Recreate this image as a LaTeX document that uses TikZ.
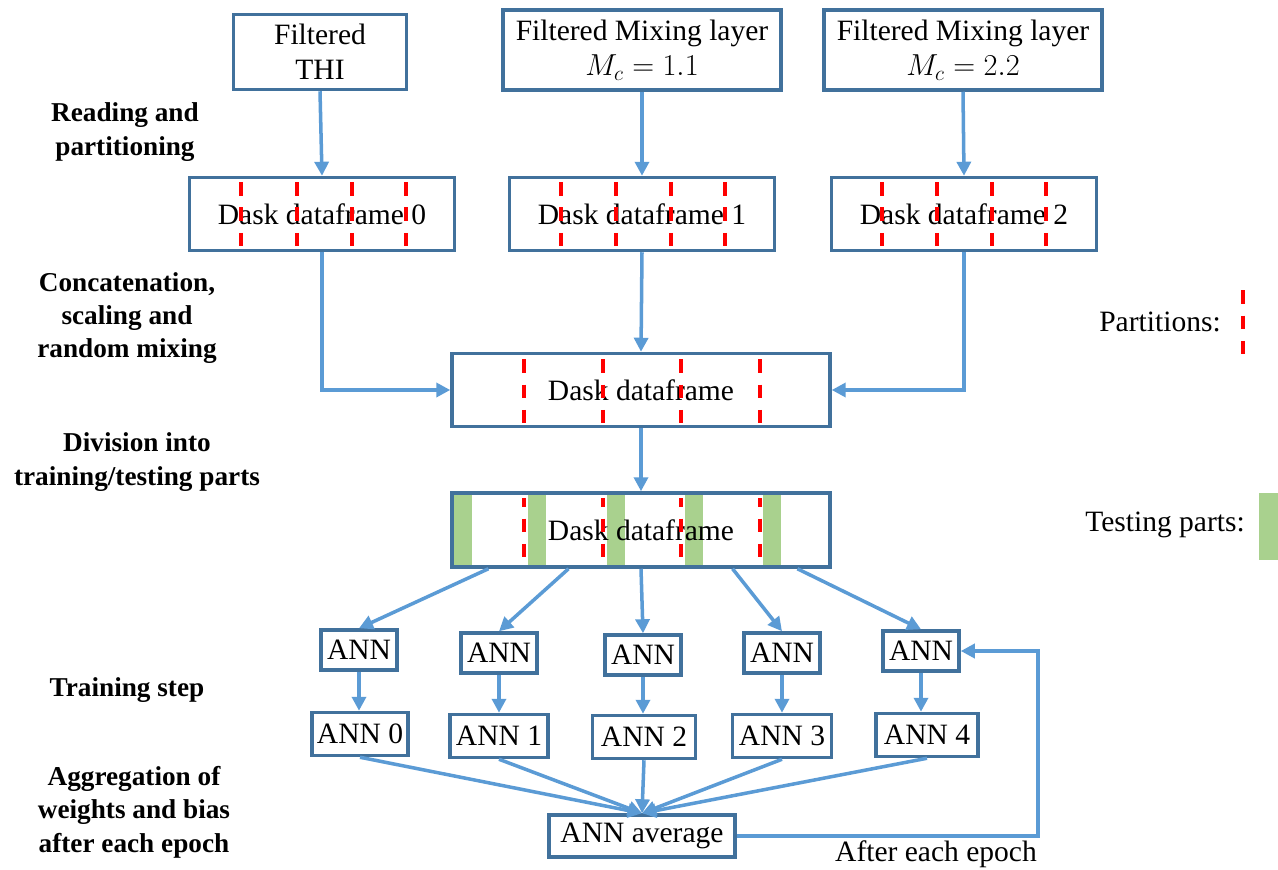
\documentclass[tikz,border=0pt]{standalone}
\usepackage{amsmath}
\usepackage{fontspec}
\setmainfont{Liberation Serif}
\usetikzlibrary{arrows.meta,calc}

\definecolor{boxblue}{RGB}{65,113,156}
\definecolor{flowblue}{RGB}{91,155,213}
\definecolor{testgreen}{RGB}{169,209,142}

\begin{document}
\begin{tikzpicture}[x=0.02cm, y=-0.02cm, >={Triangle[length=0.28cm,width=0.28cm]},
    every node/.style={font=\fontsize{16.8}{20}\selectfont},
    box/.style={draw=boxblue, line width=2pt, inner sep=0pt, align=center},
    flow/.style={draw=flowblue, line width=2pt, ->},
    part/.style={draw=red, line width=2.3pt, dash pattern=on 0.27cm off 0.24cm},
    stage/.style={font=\bfseries\fontsize{15.5}{19}\selectfont, align=center}]
    \useasboundingbox (0,0) rectangle (1278,869);

    % sources
    \node[box, minimum width=3.46cm, minimum height=1.5cm] (thi) at (320,52) {Filtered\\THI};
    \node[box, minimum width=5.56cm, minimum height=1.6cm] (mc1) at (642,50) {Filtered Mixing layer\\$M_c = 1.1$};
    \node[box, minimum width=5.56cm, minimum height=1.6cm] (mc2) at (963,50) {Filtered Mixing layer\\$M_c = 2.2$};

    % dask dataframes
    \node[box, minimum width=5.3cm, minimum height=1.46cm] (dd0) at (322,214) {Dask dataframe 0};
    \node[box, minimum width=5.3cm, minimum height=1.46cm] (dd1) at (642,214) {Dask dataframe 1};
    \node[box, minimum width=5.3cm, minimum height=1.46cm] (dd2) at (964,214) {Dask dataframe 2};
    \node[box, minimum width=7.56cm, minimum height=1.46cm] (mix) at (641,390) {Dask dataframe};

    \foreach \x in {454,528,607,685,763}
        \fill[testgreen] (\x,495) rectangle ++(18,70);
    \node[box, minimum width=7.56cm, minimum height=1.48cm] (split) at (641,530) {Dask dataframe};

    \foreach \x in {241,297,352,406} \draw[part] (\x,182) -- (\x,251);
    \foreach \x in {561,616,671,725} \draw[part] (\x,182) -- (\x,251);
    \foreach \x in {882,937,992,1046} \draw[part] (\x,182) -- (\x,251);
    \foreach \x in {524,603,681,760} \draw[part] (\x,359) -- (\x,427);
    \foreach \x in {524,603,681,760} \draw[part, dash phase=0.1cm] (\x,498) -- (\x,567);

    % legend
    \node (plab) at (1160,322) {Partitions:};
    \draw[part] (1243,290) -- (1243,356);
    \node (tlab) at (1165,525) {Testing parts:};
    \fill[testgreen] (1259,493) rectangle (1278,560);

    % networks
    \foreach \i/\x/\y in {0/359/650,1/499/653,2/643/655,3/782/653,4/921/651}
        \node[box, minimum width=1.52cm, minimum height=0.8cm] (ann\i) at (\x,\y) {ANN};
    \foreach \i/\x/\y/\w in {0/360/734/1.92,1/499/736/1.96,2/644/737/2.06,3/782/736/1.98,4/927/735/2.04}
        \node[box, minimum width=\w cm, minimum height=0.86cm] (net\i) at (\x,\y) {ANN \i};
    \node[box, minimum width=3.72cm, minimum height=0.84cm] (avg) at (642,836) {ANN average};

    % flow
    \draw[flow] (thi.south) -- (dd0.north);
    \draw[flow] (mc1.south) -- (dd1.north);
    \draw[flow] (mc2.south) -- (dd2.north);
    \draw[flow] (dd0.south) |- (mix.west);
    \draw[flow] (dd1.south) -- (mix.north);
    \draw[flow] (dd2.south) |- (mix.east);
    \draw[flow] (mix.south) -- (split.north);
    \foreach \i/\f in {0/0.1,1/0.31,2/0.5,3/0.74,4/0.91}
        \draw[flow] ($(split.south west)!\f!(split.south east)$) -- (ann\i.north);
    \foreach \i in {0,...,4} {
        \draw[flow] (ann\i.south) -- (ann\i.south |- net\i.north);
        \draw[flow] (net\i.south) -- (avg.north);
    }
    \coordinate (back) at (1038,651);
    \draw[flow] (avg.east) -| (back) -- (ann4.east);
    \node (after) at (936,854) {After each epoch};

    % stages
    \node[stage] (s1) at (125,132) {Reading and\\partitioning};
    \node[stage] (s2) at (127,318) {Concatenation,\\scaling and\\random mixing};
    \node[stage] (s3) at (137,462) {Division into\\training/testing parts};
    \node[stage] (s4) at (127,690) {Training step};
    \node[stage] (s5) at (134,812) {Aggregation of\\weights and bias\\after each epoch};
\end{tikzpicture}
\end{document}
